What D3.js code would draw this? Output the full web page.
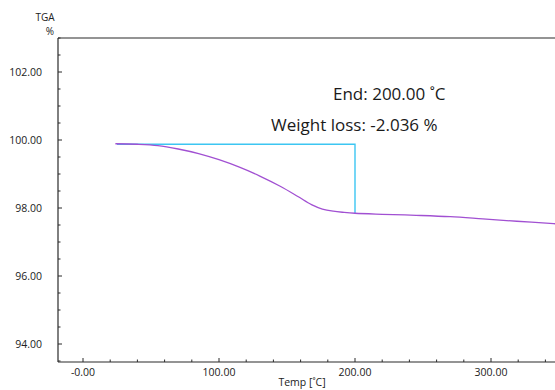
<!DOCTYPE html>
<html>
<head>
<meta charset="utf-8">
<script src="https://cdn.jsdelivr.net/npm/d3@7"></script>
<style>
  html, body { margin: 0; padding: 0; background: #fff; overflow: hidden; }
  svg { display: block; font-family: "Open Sans", "Noto Sans", sans-serif; }
</style>
</head>
<body>
<svg id="chart" width="555" height="390"></svg>
<script>
// TGA curve: temperature (°C) and remaining mass (%)
const temps   = [23.8, 40, 55, 70, 85, 100, 115, 130, 145, 158, 168, 176, 184, 192, 200, 220, 245, 270, 294, 319, 346, 365];
const weights = [99.89, 99.875, 99.835, 99.735, 99.60, 99.42, 99.20, 98.94, 98.64, 98.34, 98.10, 97.97, 97.905, 97.87, 97.845, 97.815, 97.785, 97.745, 97.68, 97.61, 97.54, 97.49];

// step analysis: start level, end temperature, weight loss
const stepStartT = 25;
const stepStartW = 99.876;
const stepEndT = 200;
const weightLoss = -2.036;

const xTicks = [0, 100, 200, 300];
const yTicks = [94, 96, 98, 100, 102];
const xMinor = d3.range(0, 361, 20);
const yMinor = d3.range(93.5, 103.01, 0.5);

const svg = d3.select("#chart");
const frameLeft = 58, frameTop = 38, frameBottom = 362, frameRight = 600;

const x = d3.scaleLinear().domain([0, 300]).range([83, 491]);
const y = d3.scaleLinear().domain([94, 102]).range([344, 72]);

const ink = "#2b2b2b";

// plot frame: left, top and bottom borders
svg.append("line").attr("x1", frameLeft).attr("x2", frameRight).attr("y1", frameTop).attr("y2", frameTop)
  .attr("stroke", ink).attr("stroke-width", 1.2);
svg.append("line").attr("x1", frameLeft).attr("x2", frameLeft).attr("y1", frameTop).attr("y2", frameBottom)
  .attr("stroke", ink).attr("stroke-width", 1.2);
svg.append("line").attr("x1", frameLeft).attr("x2", frameRight).attr("y1", frameBottom).attr("y2", frameBottom)
  .attr("stroke", ink).attr("stroke-width", 1.2);

// bottom axis ticks (inside), minor and major
const xAxisG = svg.append("g");
xAxisG.selectAll("line").data(xMinor).join("line")
  .attr("x1", d => x(d)).attr("x2", d => x(d))
  .attr("y1", frameBottom).attr("y2", d => xTicks.includes(d) ? frameBottom - 4 : frameBottom - 2.5)
  .attr("stroke", ink).attr("stroke-width", 1);
xAxisG.selectAll("text").data(xTicks).join("text")
  .attr("x", d => x(d)).attr("y", frameBottom + 14)
  .attr("text-anchor", "middle").attr("font-size", 10.5).attr("fill", "#222")
  .text(d => (d === 0 ? "-0.00" : d.toFixed(2)));

// left axis ticks (inside)
const yAxisG = svg.append("g");
yAxisG.selectAll("line").data(yMinor).join("line")
  .attr("y1", d => y(d)).attr("y2", d => y(d))
  .attr("x1", frameLeft).attr("x2", d => yTicks.includes(d) ? frameLeft + 4 : frameLeft + 2.5)
  .attr("stroke", ink).attr("stroke-width", 1);
yAxisG.selectAll("text").data(yTicks).join("text")
  .attr("x", 42).attr("y", d => y(d) + 3.8)
  .attr("text-anchor", "end").attr("font-size", 10.5).attr("fill", "#222")
  .text(d => d.toFixed(2));

// axis titles
svg.append("text").attr("x", 45).attr("y", 21).attr("text-anchor", "middle")
  .attr("font-size", 10).attr("fill", "#222").text("TGA");
svg.append("text").attr("x", 50).attr("y", 35).attr("text-anchor", "middle")
  .attr("font-size", 10).attr("fill", "#222").text("%");
svg.append("text").attr("x", 302).attr("y", 386).attr("text-anchor", "middle")
  .attr("font-size", 10.5).attr("fill", "#222").text("Temp [˚C]");

// step marker: horizontal from start level, then down to the end level
const endW = stepStartW + weightLoss;
svg.append("path")
  .attr("d", `M${x(stepStartT)},${y(stepStartW)} H${x(stepEndT)} V${y(endW)}`)
  .attr("fill", "none").attr("stroke", "#3cc6f2").attr("stroke-width", 1.4);

// TGA curve
const pts = temps.map((t, i) => [t, weights[i]]);
svg.append("path").datum(pts)
  .attr("d", d3.line().x(d => x(d[0])).y(d => y(d[1])).curve(d3.curveCatmullRom.alpha(0.5)))
  .attr("fill", "none").attr("stroke", "#a150d2").attr("stroke-width", 1.3);

// step annotation
svg.append("text").attr("x", 333).attr("y", 100).attr("font-size", 17).attr("fill", "#1a1a1a")
  .text(`End: ${stepEndT.toFixed(2)} ˚C`);
svg.append("text").attr("x", 271).attr("y", 131).attr("font-size", 17).attr("fill", "#1a1a1a")
  .text(`Weight loss: ${weightLoss.toFixed(3)} %`);
</script>
</body>
</html>
